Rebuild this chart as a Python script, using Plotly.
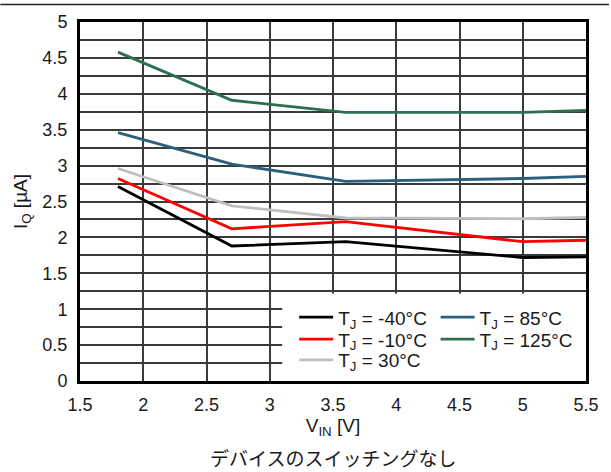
import plotly.graph_objects as go

vin = [1.8, 2.7, 3.6, 5.0, 5.5]
series_names = ["T<sub>J</sub> = -40°C", "T<sub>J</sub> = -10°C", "T<sub>J</sub> = 30°C",
                "T<sub>J</sub> = 85°C", "T<sub>J</sub> = 125°C"]
iq_m40 = [2.71, 1.88, 1.94, 1.72, 1.73]
iq_m10 = [2.82, 2.12, 2.22, 1.94, 1.96]
iq_30 = [2.96, 2.44, 2.27, 2.26, 2.28]
iq_85 = [3.46, 3.02, 2.78, 2.82, 2.85]
iq_125 = [4.58, 3.91, 3.74, 3.74, 3.77]
series_values = [iq_m40, iq_m10, iq_30, iq_85, iq_125]
colors = ["#000000", "#ff0000", "#bfbfbf", "#2b5f7d", "#2d7050"]

x_ticks = [1.5, 2, 2.5, 3, 3.5, 4, 4.5, 5, 5.5]
y_ticks = [0, 0.5, 1, 1.5, 2, 2.5, 3, 3.5, 4, 4.5, 5]

W, H = 611, 472
L, R, T, B = 80, 23, 20, 91
pw, ph = W - L - R, H - T - B

# legend entry placement (pixel): column left, row centre
leg_pos = [(295, 317), (295, 339), (295, 360), (437, 317), (437, 339)]
legend_ids = ["legend", "legend2", "legend3", "legend4", "legend5"]

fig = go.Figure()
for name, vals, col, lid in zip(series_names, series_values, colors, legend_ids):
    fig.add_trace(go.Scatter(x=vin, y=vals, mode="lines", name=name,
                             line=dict(color=col, width=2.8), legend=lid))

legend_layout = {}
for lid, (lx, ly) in zip(legend_ids, leg_pos):
    legend_layout[lid] = dict(x=(lx - L) / pw, y=(T + ph - ly) / ph, xanchor="left", yanchor="middle",
                              bgcolor="rgba(0,0,0,0)", borderwidth=0, itemwidth=34,
                              font=dict(size=19, color="#1a1a1a"))

fig.update_layout(
    width=W, height=H,
    margin=dict(l=L, r=R, t=T, b=B),
    paper_bgcolor="white", plot_bgcolor="white",
    font=dict(family="Liberation Sans, Arial, sans-serif", size=18, color="#1a1a1a"),
    showlegend=True,
    **legend_layout,
    xaxis=dict(range=[1.5, 5.5], tickvals=x_ticks, showgrid=True, gridcolor="#3a3a3a", gridwidth=1.5,
               showline=True, linecolor="black", linewidth=3, mirror=True, ticks="",
               ticklabelstandoff=5, zeroline=False, tickfont=dict(size=18),
               title=dict(text="V<sub>IN</sub> [V]", standoff=6, font=dict(size=19))),
    yaxis=dict(range=[0, 5], tickvals=y_ticks, showgrid=True, gridcolor="#3a3a3a", gridwidth=1.5,
               minor=dict(dtick=0.25, showgrid=True, gridcolor="#3a3a3a", gridwidth=1.5),
               showline=True, linecolor="black", linewidth=3, mirror=True, ticks="",
               ticklabelstandoff=6, zeroline=False, tickfont=dict(size=18),
               title=dict(text="I<sub>Q</sub> [µA]", standoff=10, font=dict(size=19))),
    shapes=[
        dict(type="line", xref="paper", yref="paper", x0=-L / pw, x1=(W - L) / pw,
             y0=(ph + T - 2.5) / ph, y1=(ph + T - 2.5) / ph,
             line=dict(color="#222222", width=1.5)),
        dict(type="rect", xref="paper", yref="paper", layer="above",
             x0=(283 - L) / pw, x1=(588 - L) / pw, y0=0, y1=(T + ph - 293) / ph,
             fillcolor="white", line=dict(width=0)),
    ],
    annotations=[dict(text="デバイスのスイッチングなし", xref="paper", yref="paper",
                      x=0.5, y=-(458 - (T + ph)) / ph, xanchor="center", yanchor="middle",
                      showarrow=False,
                      font=dict(family="Noto Sans CJK JP", size=19, color="#1a1a1a"))],
)

fig.write_html("out.html")
